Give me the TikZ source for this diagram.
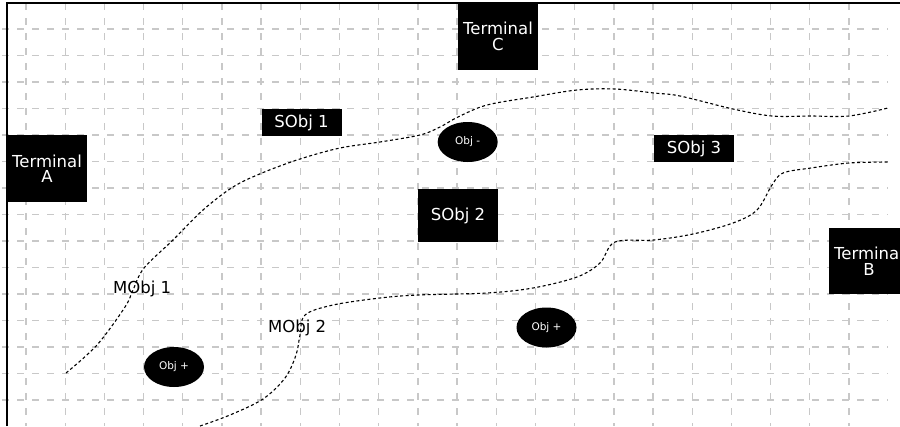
\documentclass[tikz,border=0pt]{standalone}
\usepackage{fontspec}
\setmainfont{DejaVu Sans}
\usepackage{xcolor}
\definecolor{gridGray}{HTML}{C8C8C8}
\usetikzlibrary{shapes.geometric}
\tikzset{
    termbox/.style={rectangle, fill=black, text=white, inner sep=0pt,
                    minimum width=80pt, minimum height=67pt, align=center,
                    font=\fontsize{16.5}{15.5}\selectfont},
    sobjbox/.style={rectangle, fill=black, text=white, inner sep=0pt,
                    minimum width=80pt, minimum height=27pt,
                    font=\fontsize{16.5}{15.5}\selectfont},
    objdot/.style={ellipse, fill=black, text=white, inner sep=0pt,
                   minimum width=60pt, minimum height=40pt,
                   font=\fontsize{10.5}{10.5}\selectfont},
    mlabel/.style={inner sep=0pt, anchor=base west,
                   font=\fontsize{16.5}{15.5}\selectfont},
    gridline/.style={gridGray, line width=1.3pt, dash pattern=on 7pt off 8pt},
    boundary/.style={black, line width=1.1pt, dash pattern=on 3pt off 2.5pt},
    frameline/.style={black, line width=2pt},
}

\begin{document}
\begin{tikzpicture}[x=1pt, y=-1pt]
    \useasboundingbox (0,0) rectangle (900,426);
    \clip (0,0) rectangle (900,426);
    % background grid
    \foreach \k in {0,...,21}
        \draw[gridline] ({26+39.19*\k},3) -- ({26+39.19*\k},426);
    \foreach \k in {0,...,14}
        \draw[gridline] (2,{29+26.5*\k}) -- (888,{29+26.5*\k});
    % frame
    \draw[frameline] (7,426) -- (7,3) -- (900,3);
    % region boundaries
    \draw[boundary] plot[smooth, tension=0.55] coordinates {
        (66,373) (97,345) (125,307) (133,290) (144,268) (173,240)
        (203,210) (233,187) (262,173) (300,159) (340,148) (380,142)
        (420,135) (440,127) (458,117) (487,105) (533,97) (577,90)
        (615,89) (654,93) (680,96) (733,109) (772,116) (811,116)
        (849,116) (888,108)};
    \draw[boundary] plot[smooth, tension=0.55] coordinates {
        (200,426) (230,415) (263,399) (285,378) (296,355) (300,335)
        (305,315) (333,305) (380,298) (418,295) (487,293) (533,288)
        (577,277) (600,263) (615,242) (654,240) (693,234) (733,223)
        (757,210) (772,185) (783,173) (811,168) (849,163) (888,162)};
    % terminals
    \node[termbox] (termA) at (47,168.5) {Terminal\\A};
    \node[termbox] (termC) at (498,36.5) {Terminal\\C};
    \node[termbox, minimum height=66pt] (termB) at (869,261) {Terminal\\B};
    % static objects
    \node[sobjbox] (sobj1) at (301.5,122.5) {SObj 1};
    \node[sobjbox, minimum height=53pt] (sobj2) at (458,215.5) {SObj 2};
    \node[sobjbox] (sobj3) at (694,148.5) {SObj 3};
    % point objects
    \node[objdot] (objMinus) at (467.7,142) {Obj -};
    \node[objdot] (objPlusA) at (174,367) {Obj +};
    \node[objdot] (objPlusB) at (546.5,327.5) {Obj +};
    % moving object labels
    \node[mlabel] (mobj1) at (113,293) {MObj 1};
    \node[mlabel] (mobj2) at (268,332) {MObj 2};
\end{tikzpicture}
\end{document}
